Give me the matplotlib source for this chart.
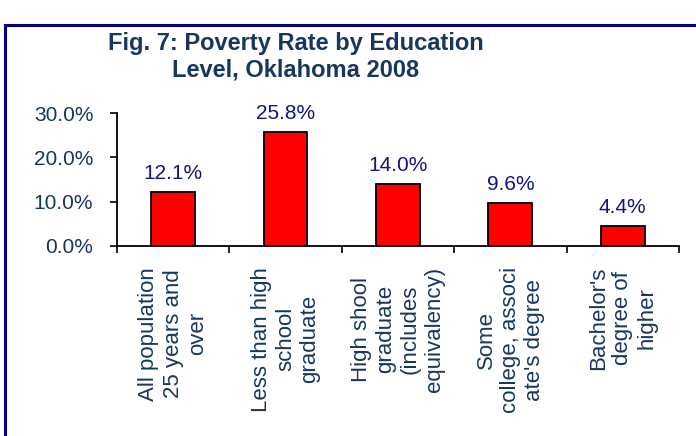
import matplotlib
matplotlib.use("Agg")
import matplotlib.pyplot as plt
from matplotlib.patches import Rectangle
from matplotlib.ticker import FixedLocator, PercentFormatter

plt.rcParams['font.family'] = ['Liberation Sans', 'DejaVu Sans']

categories = ["All population\n25 years and\nover",
              "Less than high\nschool\ngraduate",
              "High shool\ngraduate\n(includes\nequivalency)",
              "Some\ncollege, associ\nate's degree",
              "Bachelor's\ndegree of\nhigher"]
rates = [12.1, 25.8, 14.0, 9.6, 4.4]
y_ticks = [0, 10, 20, 30]

title_color = '#17375E'
value_color = '#141480'

fig = plt.figure(figsize=(6.96, 4.36), dpi=100)
fig.patch.set_facecolor('white')

# frame round the chart, cut off at right and bottom
fig.patches.append(Rectangle((5, -20), 720, 431, transform=None,
                             fill=False, edgecolor='#000080', linewidth=2.2))

ax = fig.add_axes([0.168, 0.4358, 0.8076, 0.305])
pos = list(range(len(rates)))
bars = ax.bar(pos, rates, width=0.39, color='#FF0000',
              edgecolor='black', linewidth=1.3)

for b, v in zip(bars, rates):
    ax.annotate(f"{v:.1f}%", (b.get_x() + b.get_width() / 2, v),
                xytext=(0, 13), textcoords='offset pixels',
                ha='center', va='baseline', fontsize=15, color=value_color)

ax.set_xlim(-0.5, len(rates) - 0.5)
ax.set_ylim(0, 30)
ax.yaxis.set_major_locator(FixedLocator(y_ticks))
ax.yaxis.set_major_formatter(PercentFormatter(decimals=1))
ax.tick_params(axis='y', length=5, width=1.2, pad=12, labelsize=15,
               labelcolor=title_color)

ax.set_xticks(pos)
ax.set_xticklabels(categories, rotation=90, ha='center', va='top',
                   multialignment='center', fontsize=16, color=title_color,
                   linespacing=1.2)
ax.tick_params(axis='x', which='major', length=0, pad=15)
ax.set_xticks([p - 0.5 for p in range(len(rates) + 1)], minor=True)
ax.tick_params(axis='x', which='minor', length=5, width=1.2)

for side in ('top', 'right'):
    ax.spines[side].set_visible(False)
for side in ('left', 'bottom'):
    ax.spines[side].set_linewidth(1.3)

fig.text(0.425, 0.869, "Fig. 7: Poverty Rate by Education\nLevel, Oklahoma 2008",
         ha='center', va='center', multialignment='center',
         fontsize=17, fontweight='bold', color=title_color, linespacing=1.2)

fig.savefig("out.png", dpi=100, facecolor='white')
